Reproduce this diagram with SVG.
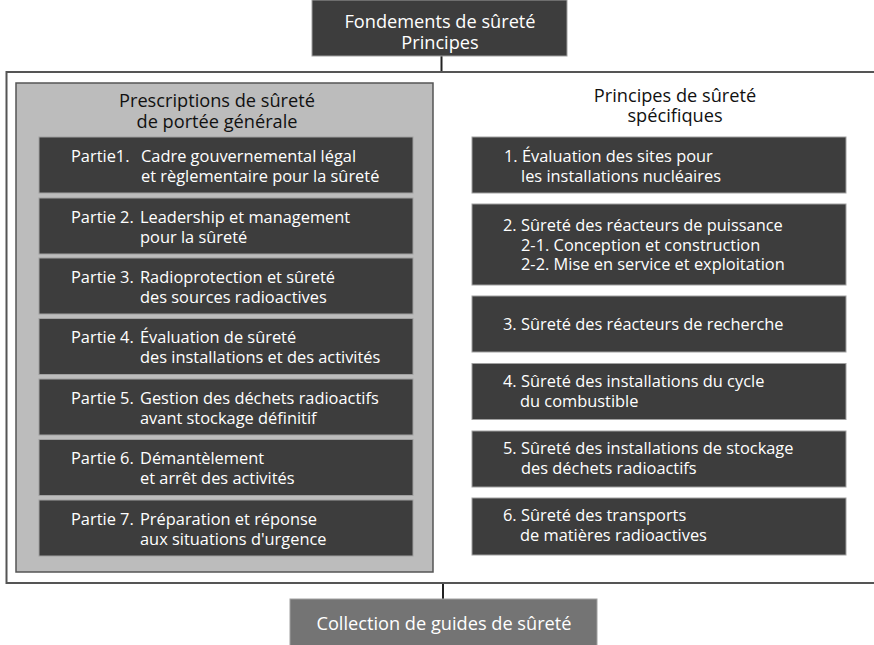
<svg xmlns="http://www.w3.org/2000/svg" width="874" height="645" viewBox="0 0 874 645">
<style>
text{font-family:"Open Sans","Noto Sans","Liberation Sans",sans-serif;}
.dk{fill:#3d3d3d;stroke:#a0a0a0;stroke-width:1;}
.t{fill:#ffffff;font-size:16.4px;}
.h{fill:#111111;font-size:18.2px;text-anchor:middle;}
.w{fill:#ffffff;font-size:18.2px;text-anchor:middle;}
.ln{stroke:#222;stroke-width:2;fill:none;}
</style>
<rect width="874" height="645" fill="#ffffff"/>
<g id="connectors">
<line class="ln" x1="441.5" y1="56" x2="441.5" y2="72"/>
<line class="ln" x1="443" y1="583" x2="443" y2="599"/>
</g>
<g id="frame">
<rect x="6.5" y="72" width="880" height="511" fill="#ffffff" stroke="#555" stroke-width="2"/>
</g>
<g id="fondements">
<rect x="312" y="0" width="255" height="56" class="dk"/>
<text class="w" x="440" y="28">Fondements de sûreté<tspan x="440" dy="21">Principes</tspan></text>
</g>
<g id="general">
<rect x="16" y="83" width="417" height="489" fill="#bcbcbc" stroke="#555" stroke-width="1.5"/>
<text class="h" x="217" y="107">Prescriptions de sûreté<tspan x="217" dy="21">de portée générale</tspan></text>
</g>
<g id="partie1">
<rect x="39" y="137" width="374" height="56" class="dk"/>
<text class="t" x="71" y="162">Partie1.</text>
<text class="t" x="141" y="162">Cadre gouvernemental légal<tspan x="141" dy="20">et règlementaire pour la sûreté</tspan></text>
</g>
<g id="partie2">
<rect x="39" y="198" width="374" height="56" class="dk"/>
<text class="t" x="71" y="223">Partie 2.</text>
<text class="t" x="140" y="223">Leadership et management<tspan x="140" dy="20">pour la sûreté</tspan></text>
</g>
<g id="partie3">
<rect x="39" y="258" width="374" height="56" class="dk"/>
<text class="t" x="71" y="283">Partie 3.</text>
<text class="t" x="140" y="283">Radioprotection et sûreté<tspan x="140" dy="20">des sources radioactives</tspan></text>
</g>
<g id="partie4">
<rect x="39" y="318.5" width="374" height="56" class="dk"/>
<text class="t" x="71" y="343">Partie 4.</text>
<text class="t" x="140" y="343">Évaluation de sûreté<tspan x="140" dy="20">des installations et des activités</tspan></text>
</g>
<g id="partie5">
<rect x="39" y="379" width="374" height="56" class="dk"/>
<text class="t" x="71" y="404">Partie 5.</text>
<text class="t" x="140" y="404">Gestion des déchets radioactifs<tspan x="140" dy="20">avant stockage définitif</tspan></text>
</g>
<g id="partie6">
<rect x="39" y="439.5" width="374" height="56" class="dk"/>
<text class="t" x="71" y="464">Partie 6.</text>
<text class="t" x="140" y="464">Démantèlement<tspan x="140" dy="20">et arrêt des activités</tspan></text>
</g>
<g id="partie7">
<rect x="39" y="500" width="374" height="56" class="dk"/>
<text class="t" x="71" y="525">Partie 7.</text>
<text class="t" x="140" y="525">Préparation et réponse<tspan x="140" dy="20">aux situations d'urgence</tspan></text>
</g>
<g id="specifiques">
<text class="h" x="675" y="102">Principes de sûreté<tspan x="675" dy="20">spécifiques</tspan></text>
</g>
<g id="spec1">
<rect x="472" y="137" width="374" height="56" class="dk"/>
<text class="t" x="504" y="162">1. Évaluation des sites pour<tspan x="521" dy="20">les installations nucléaires</tspan></text>
</g>
<g id="spec2">
<rect x="472" y="204" width="374" height="81" class="dk"/>
<text class="t" x="503" y="231">2. Sûreté des réacteurs de puissance<tspan x="521" dy="20">2-1. Conception et construction</tspan><tspan x="521" dy="19">2-2. Mise en service et exploitation</tspan></text>
</g>
<g id="spec3">
<rect x="472" y="296" width="374" height="56" class="dk"/>
<text class="t" x="503" y="330">3. Sûreté des réacteurs de recherche</text>
</g>
<g id="spec4">
<rect x="472" y="363.5" width="374" height="56" class="dk"/>
<text class="t" x="503" y="387">4. Sûreté des installations du cycle<tspan x="520" dy="20">du combustible</tspan></text>
</g>
<g id="spec5">
<rect x="472" y="431" width="374" height="56" class="dk"/>
<text class="t" x="503" y="454">5. Sûreté des installations de stockage<tspan x="521" dy="20">des déchets radioactifs</tspan></text>
</g>
<g id="spec6">
<rect x="472" y="498" width="374" height="57" class="dk"/>
<text class="t" x="503" y="521">6. Sûreté des transports<tspan x="520" dy="20">de matières radioactives</tspan></text>
</g>
<g id="collection">
<rect x="290" y="599" width="307" height="56" fill="#747474" stroke="#a0a0a0" stroke-width="1"/>
<text class="w" x="444" y="630">Collection de guides de sûreté</text>
</g>
</svg>
